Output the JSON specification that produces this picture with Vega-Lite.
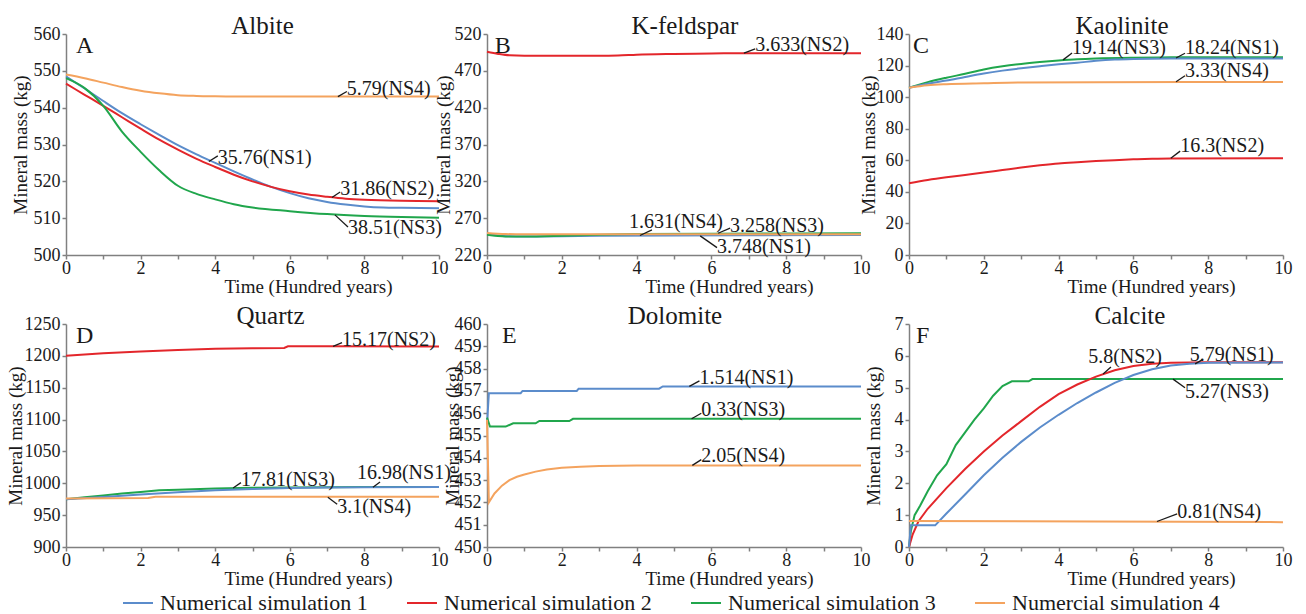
{
  "$schema": "https://vega.github.io/schema/vega-lite/v6.json",
  "padding": {"left": 5, "top": 14, "right": 5, "bottom": 0},
  "bounds": "flush",
  "columns": 3,
  "spacing": {"row": 69, "column": 48},
  "datasets": {
    "A": [
      {"s":"NS1","t":0,"m":548.5},{"s":"NS1","t":0.5,"m":545.2},{"s":"NS1","t":1,"m":541.8},{"s":"NS1","t":1.5,"m":538.5},{"s":"NS1","t":2,"m":535.5},{"s":"NS1","t":2.5,"m":532.6},{"s":"NS1","t":3,"m":529.8},{"s":"NS1","t":3.5,"m":527.3},{"s":"NS1","t":4,"m":525},{"s":"NS1","t":4.5,"m":522.7},{"s":"NS1","t":5,"m":520.5},{"s":"NS1","t":5.5,"m":518.5},{"s":"NS1","t":6,"m":516.8},{"s":"NS1","t":6.5,"m":515.4},{"s":"NS1","t":7,"m":514.4},{"s":"NS1","t":7.5,"m":513.7},{"s":"NS1","t":8,"m":513.2},{"s":"NS1","t":8.5,"m":512.9},{"s":"NS1","t":9,"m":512.8},{"s":"NS1","t":10,"m":512.7},
      {"s":"NS2","t":0,"m":546.5},{"s":"NS2","t":0.5,"m":543.5},{"s":"NS2","t":1,"m":540.5},{"s":"NS2","t":1.5,"m":537.4},{"s":"NS2","t":2,"m":534.3},{"s":"NS2","t":2.5,"m":531.3},{"s":"NS2","t":3,"m":528.6},{"s":"NS2","t":3.5,"m":526.1},{"s":"NS2","t":4,"m":523.9},{"s":"NS2","t":4.5,"m":521.8},{"s":"NS2","t":5,"m":520},{"s":"NS2","t":5.5,"m":518.5},{"s":"NS2","t":6,"m":517.3},{"s":"NS2","t":6.5,"m":516.4},{"s":"NS2","t":7,"m":515.8},{"s":"NS2","t":7.5,"m":515.3},{"s":"NS2","t":8,"m":515},{"s":"NS2","t":9,"m":514.7},{"s":"NS2","t":10,"m":514.6},
      {"s":"NS3","t":0,"m":548},{"s":"NS3","t":0.5,"m":545.3},{"s":"NS3","t":1,"m":540.5},{"s":"NS3","t":1.5,"m":533.5},{"s":"NS3","t":2,"m":528},{"s":"NS3","t":2.5,"m":523},{"s":"NS3","t":3,"m":518.8},{"s":"NS3","t":3.5,"m":516.6},{"s":"NS3","t":4,"m":515.1},{"s":"NS3","t":4.5,"m":513.8},{"s":"NS3","t":5,"m":512.9},{"s":"NS3","t":6,"m":511.9},{"s":"NS3","t":7,"m":511.1},{"s":"NS3","t":8,"m":510.6},{"s":"NS3","t":9,"m":510.3},{"s":"NS3","t":10,"m":510.1},
      {"s":"NS4","t":0,"m":549},{"s":"NS4","t":0.5,"m":548},{"s":"NS4","t":1,"m":546.8},{"s":"NS4","t":1.5,"m":545.6},{"s":"NS4","t":2,"m":544.6},{"s":"NS4","t":2.5,"m":543.9},{"s":"NS4","t":3,"m":543.4},{"s":"NS4","t":3.5,"m":543.2},{"s":"NS4","t":4,"m":543.1},{"s":"NS4","t":5,"m":543},{"s":"NS4","t":10,"m":543}
    ],
    "A_lab": [
      {"label":"5.79(NS4)","lx":7.53,"ly":545.1,"t":7.29,"m":543,"t2":7.53,"m2":544.4},
      {"label":"35.76(NS1)","lx":4.07,"ly":526.4,"t":3.83,"m":525.4,"t2":4.07,"m2":526.9},
      {"label":"31.86(NS2)","lx":7.35,"ly":517.9,"t":7.13,"m":515.6,"t2":7.35,"m2":517.1},
      {"label":"38.51(NS3)","lx":7.56,"ly":507.3,"t":7.21,"m":510.9,"t2":7.56,"m2":507.6}
    ],
    "B": [
      {"s":"NS2","t":0,"m":496},{"s":"NS2","t":0.3,"m":493},{"s":"NS2","t":0.6,"m":491},{"s":"NS2","t":1,"m":490.5},{"s":"NS2","t":2,"m":490.5},{"s":"NS2","t":3,"m":490.5},{"s":"NS2","t":3.5,"m":490.8},{"s":"NS2","t":4,"m":492},{"s":"NS2","t":5,"m":493},{"s":"NS2","t":6,"m":493.5},{"s":"NS2","t":7,"m":494},{"s":"NS2","t":10,"m":494},
      {"s":"NS1","t":0,"m":248.5},{"s":"NS1","t":0.5,"m":245.5},{"s":"NS1","t":1,"m":245.2},{"s":"NS1","t":2,"m":245.5},{"s":"NS1","t":3,"m":246},{"s":"NS1","t":5,"m":246.5},{"s":"NS1","t":10,"m":247},
      {"s":"NS3","t":0,"m":247.5},{"s":"NS3","t":0.5,"m":245.2},{"s":"NS3","t":1,"m":245},{"s":"NS3","t":2,"m":246},{"s":"NS3","t":3,"m":247.5},{"s":"NS3","t":4,"m":248.5},{"s":"NS3","t":6,"m":249},{"s":"NS3","t":10,"m":249.5},
      {"s":"NS4","t":0,"m":250},{"s":"NS4","t":0.5,"m":248.5},{"s":"NS4","t":1,"m":248},{"s":"NS4","t":3,"m":248},{"s":"NS4","t":5,"m":248.2},{"s":"NS4","t":10,"m":248.2}
    ],
    "B_lab": [
      {"label":"3.633(NS2)","lx":7.17,"ly":505,"t":6.87,"m":494,"t2":7.17,"m2":499.7},
      {"label":"1.631(NS4)","lx":3.8,"ly":264.6,"t":4.09,"m":246.5,"t2":4.41,"m2":254},
      {"label":"3.258(NS3)","lx":6.5,"ly":259.2,"t":6.18,"m":249.5,"t2":6.5,"m2":256.5},
      {"label":"3.748(NS1)","lx":6.15,"ly":230.8,"t":5.7,"m":246,"t2":6.15,"m2":230}
    ],
    "C": [
      {"s":"NS3","t":0,"m":106},{"s":"NS3","t":0.5,"m":109.5},{"s":"NS3","t":1,"m":112.3},{"s":"NS3","t":1.5,"m":114.8},{"s":"NS3","t":2,"m":117.5},{"s":"NS3","t":2.5,"m":119.5},{"s":"NS3","t":3,"m":121},{"s":"NS3","t":3.5,"m":122.2},{"s":"NS3","t":4,"m":123.2},{"s":"NS3","t":4.5,"m":124},{"s":"NS3","t":5,"m":124.5},{"s":"NS3","t":6,"m":125},{"s":"NS3","t":7,"m":125.2},{"s":"NS3","t":10,"m":125.3},
      {"s":"NS1","t":0,"m":106},{"s":"NS1","t":0.5,"m":108.5},{"s":"NS1","t":1,"m":110.5},{"s":"NS1","t":1.5,"m":112.8},{"s":"NS1","t":2,"m":115},{"s":"NS1","t":2.5,"m":116.8},{"s":"NS1","t":3,"m":118.3},{"s":"NS1","t":3.5,"m":119.6},{"s":"NS1","t":4,"m":120.8},{"s":"NS1","t":4.5,"m":121.8},{"s":"NS1","t":5,"m":123},{"s":"NS1","t":5.5,"m":123.8},{"s":"NS1","t":6,"m":124.2},{"s":"NS1","t":7,"m":124.5},{"s":"NS1","t":10,"m":124.5},
      {"s":"NS4","t":0,"m":106},{"s":"NS4","t":0.5,"m":107.5},{"s":"NS4","t":1,"m":108.2},{"s":"NS4","t":2,"m":108.8},{"s":"NS4","t":3,"m":109.3},{"s":"NS4","t":5,"m":109.5},{"s":"NS4","t":10,"m":109.6},
      {"s":"NS2","t":0,"m":45.5},{"s":"NS2","t":0.5,"m":47.5},{"s":"NS2","t":1,"m":49.2},{"s":"NS2","t":1.5,"m":50.7},{"s":"NS2","t":2,"m":52.2},{"s":"NS2","t":2.5,"m":53.8},{"s":"NS2","t":3,"m":55.4},{"s":"NS2","t":3.5,"m":56.8},{"s":"NS2","t":4,"m":58},{"s":"NS2","t":4.5,"m":58.8},{"s":"NS2","t":5,"m":59.5},{"s":"NS2","t":5.5,"m":60.1},{"s":"NS2","t":6,"m":60.6},{"s":"NS2","t":6.5,"m":61},{"s":"NS2","t":7,"m":61.2},{"s":"NS2","t":10,"m":61.3}
    ],
    "C_lab": [
      {"label":"19.14(NS3)","lx":4.36,"ly":130.9,"t":4.12,"m":123.6,"t2":4.36,"m2":128},
      {"label":"18.24(NS1)","lx":7.38,"ly":130.9,"t":7.14,"m":124.8,"t2":7.38,"m2":127.8},
      {"label":"3.33(NS4)","lx":7.38,"ly":116.7,"t":7.14,"m":109.7,"t2":7.38,"m2":113.5},
      {"label":"16.3(NS2)","lx":7.25,"ly":68.9,"t":7.0,"m":61.3,"t2":7.25,"m2":65.8}
    ],
    "D": [
      {"s":"NS2","t":0,"m":1200},{"s":"NS2","t":1,"m":1204},{"s":"NS2","t":2,"m":1207},{"s":"NS2","t":3,"m":1209},{"s":"NS2","t":4,"m":1211},{"s":"NS2","t":5,"m":1212},{"s":"NS2","t":5.85,"m":1212.5},{"s":"NS2","t":5.95,"m":1215},{"s":"NS2","t":7,"m":1215},{"s":"NS2","t":10,"m":1214.8},
      {"s":"NS3","t":0,"m":975},{"s":"NS3","t":0.5,"m":978},{"s":"NS3","t":1,"m":981},{"s":"NS3","t":1.5,"m":984},{"s":"NS3","t":2,"m":986.5},{"s":"NS3","t":2.5,"m":989},{"s":"NS3","t":3,"m":990},{"s":"NS3","t":4,"m":992},{"s":"NS3","t":5,"m":993},{"s":"NS3","t":6,"m":993.5},{"s":"NS3","t":8,"m":994},{"s":"NS3","t":10,"m":994.2},
      {"s":"NS1","t":0,"m":975},{"s":"NS1","t":1,"m":978.5},{"s":"NS1","t":2,"m":982.5},{"s":"NS1","t":3,"m":986},{"s":"NS1","t":4,"m":989},{"s":"NS1","t":5,"m":991},{"s":"NS1","t":6,"m":992.5},{"s":"NS1","t":7,"m":993.3},{"s":"NS1","t":8,"m":993.8},{"s":"NS1","t":10,"m":994},
      {"s":"NS4","t":0,"m":976},{"s":"NS4","t":2.2,"m":977},{"s":"NS4","t":2.4,"m":979},{"s":"NS4","t":5,"m":979},{"s":"NS4","t":10,"m":979}
    ],
    "D_lab": [
      {"label":"15.17(NS2)","lx":7.4,"ly":1224.5,"t":7.16,"m":1215,"t2":7.4,"m2":1220.7},
      {"label":"17.81(NS3)","lx":4.69,"ly":1005.2,"t":4.48,"m":992.5,"t2":4.69,"m2":1001},
      {"label":"16.98(NS1)","lx":7.8,"ly":1015.7,"t":8.23,"m":993.8,"t2":8.42,"m2":1002},
      {"label":"3.1(NS4)","lx":7.27,"ly":962.8,"t":7.02,"m":978,"t2":7.27,"m2":967}
    ],
    "E": [
      {"s":"NS1","t":0,"m":455.5},{"s":"NS1","t":0.05,"m":456.9},{"s":"NS1","t":0.9,"m":456.9},{"s":"NS1","t":0.95,"m":457},{"s":"NS1","t":2.4,"m":457},{"s":"NS1","t":2.45,"m":457.1},{"s":"NS1","t":4.6,"m":457.1},{"s":"NS1","t":4.7,"m":457.2},{"s":"NS1","t":10,"m":457.2},
      {"s":"NS3","t":0,"m":455.8},{"s":"NS3","t":0.08,"m":455.4},{"s":"NS3","t":0.5,"m":455.4},{"s":"NS3","t":0.7,"m":455.55},{"s":"NS3","t":1.3,"m":455.55},{"s":"NS3","t":1.4,"m":455.65},{"s":"NS3","t":2.2,"m":455.65},{"s":"NS3","t":2.3,"m":455.75},{"s":"NS3","t":10,"m":455.75},
      {"s":"NS4","t":0,"m":455.7},{"s":"NS4","t":0.05,"m":452},{"s":"NS4","t":0.2,"m":452.4},{"s":"NS4","t":0.4,"m":452.75},{"s":"NS4","t":0.6,"m":453},{"s":"NS4","t":0.8,"m":453.15},{"s":"NS4","t":1,"m":453.25},{"s":"NS4","t":1.3,"m":453.38},{"s":"NS4","t":1.6,"m":453.48},{"s":"NS4","t":2,"m":453.55},{"s":"NS4","t":2.5,"m":453.6},{"s":"NS4","t":3,"m":453.63},{"s":"NS4","t":4,"m":453.65},{"s":"NS4","t":10,"m":453.66}
    ],
    "E_lab": [
      {"label":"1.514(NS1)","lx":5.68,"ly":457.6,"t":5.41,"m":457.2,"t2":5.68,"m2":457.45},
      {"label":"0.33(NS3)","lx":5.73,"ly":456.15,"t":5.47,"m":455.75,"t2":5.73,"m2":456},
      {"label":"2.05(NS4)","lx":5.73,"ly":454.06,"t":5.49,"m":453.66,"t2":5.73,"m2":453.92}
    ],
    "F": [
      {"s":"NS3","t":0,"m":0},{"s":"NS3","t":0.05,"m":0.5},{"s":"NS3","t":0.15,"m":1.0},{"s":"NS3","t":0.3,"m":1.3},{"s":"NS3","t":0.5,"m":1.75},{"s":"NS3","t":0.75,"m":2.25},{"s":"NS3","t":1,"m":2.6},{"s":"NS3","t":1.25,"m":3.2},{"s":"NS3","t":1.5,"m":3.6},{"s":"NS3","t":1.75,"m":4.0},{"s":"NS3","t":2,"m":4.35},{"s":"NS3","t":2.25,"m":4.75},{"s":"NS3","t":2.5,"m":5.05},{"s":"NS3","t":2.75,"m":5.2},{"s":"NS3","t":3.2,"m":5.2},{"s":"NS3","t":3.3,"m":5.27},{"s":"NS3","t":10,"m":5.27},
      {"s":"NS2","t":0,"m":0},{"s":"NS2","t":0.1,"m":0.4},{"s":"NS2","t":0.25,"m":0.8},{"s":"NS2","t":0.5,"m":1.2},{"s":"NS2","t":1,"m":1.85},{"s":"NS2","t":1.5,"m":2.45},{"s":"NS2","t":2,"m":3.0},{"s":"NS2","t":2.5,"m":3.5},{"s":"NS2","t":3,"m":3.95},{"s":"NS2","t":3.5,"m":4.4},{"s":"NS2","t":4,"m":4.8},{"s":"NS2","t":4.5,"m":5.1},{"s":"NS2","t":5,"m":5.35},{"s":"NS2","t":5.5,"m":5.55},{"s":"NS2","t":6,"m":5.68},{"s":"NS2","t":6.5,"m":5.75},{"s":"NS2","t":7,"m":5.78},{"s":"NS2","t":8,"m":5.8},{"s":"NS2","t":10,"m":5.8},
      {"s":"NS1","t":0,"m":0},{"s":"NS1","t":0.05,"m":0.68},{"s":"NS1","t":0.7,"m":0.68},{"s":"NS1","t":1,"m":1.05},{"s":"NS1","t":1.5,"m":1.65},{"s":"NS1","t":2,"m":2.25},{"s":"NS1","t":2.5,"m":2.8},{"s":"NS1","t":3,"m":3.3},{"s":"NS1","t":3.5,"m":3.75},{"s":"NS1","t":4,"m":4.15},{"s":"NS1","t":4.5,"m":4.52},{"s":"NS1","t":5,"m":4.85},{"s":"NS1","t":5.5,"m":5.15},{"s":"NS1","t":6,"m":5.4},{"s":"NS1","t":6.5,"m":5.58},{"s":"NS1","t":7,"m":5.7},{"s":"NS1","t":7.5,"m":5.75},{"s":"NS1","t":8,"m":5.78},{"s":"NS1","t":10,"m":5.79},
      {"s":"NS4","t":0,"m":0.82},{"s":"NS4","t":5,"m":0.8},{"s":"NS4","t":10,"m":0.78}
    ],
    "F_lab": [
      {"label":"5.8(NS2)","lx":4.79,"ly":5.96,"t":5.19,"m":5.43,"t2":5.4,"m2":5.65},
      {"label":"5.79(NS1)","lx":7.51,"ly":6.03,"t":7.65,"m":5.75,"t2":7.86,"m2":5.89},
      {"label":"5.27(NS3)","lx":7.38,"ly":4.88,"t":7.06,"m":5.27,"t2":7.38,"m2":5.0},
      {"label":"0.81(NS4)","lx":7.17,"ly":1.1,"t":6.63,"m":0.8,"t2":7.17,"m2":1.04}
    ]
  },
  "concat": [
    {
      "width": 373, "height": 221,
      "title": {"text": "Albite", "dx": 10},
      "layer": [
        {"data": {"name": "A"}, "mark": {"type": "line", "interpolate": "monotone"},
         "encoding": {
           "x": {"field": "t", "type": "quantitative", "scale": {"domain": [0, 10], "nice": false}, "axis": {"values": [0,1,2,3,4,5,6,7,8,9,10], "tickCount": 30, "format": "d", "labelExpr": "datum.value % 2 == 0 ? datum.label : ''", "labelOverlap": false, "title": "Time (Hundred years)"}},
           "y": {"field": "m", "type": "quantitative", "scale": {"domain": [500, 560], "nice": false, "zero": false}, "axis": {"values": [500,510,520,530,540,550,560], "tickCount": 30, "format": "d", "labelOverlap": false, "title": "Mineral mass (kg)", "titleX": -46}},
           "color": {"field": "s", "type": "nominal", "scale": {"domain": ["NS1","NS2","NS3","NS4"], "range": ["#5b8ccb","#e3262b","#20a64c","#f4a35e"]}, "legend": {"title": null, "orient": "none", "legendX": 56, "legendY": 553, "direction": "horizontal", "labelExpr": "{'NS1':'Numerical simulation 1','NS2':'Numerical simulation 2','NS3':'Numerical simulation 3','NS4':'Numercial simulation 4'}[datum.label]"}}
         }},
        {"data": {"name": "A_lab"}, "mark": {"type": "rule", "color": "#1a1a1a", "strokeWidth": 1.3},
         "encoding": {"x": {"field": "t", "type": "quantitative"}, "y": {"field": "m", "type": "quantitative"}, "x2": {"field": "t2"}, "y2": {"field": "m2"}}},
        {"data": {"name": "A_lab"}, "mark": {"type": "text", "align": "left", "baseline": "middle", "fontSize": 20, "color": "#1a1a1a"},
         "encoding": {"x": {"field": "lx", "type": "quantitative"}, "y": {"field": "ly", "type": "quantitative"}, "text": {"field": "label"}}},
        {"data": {"values": [{"panel": "A"}]}, "mark": {"type": "text", "align": "left", "baseline": "top", "fontSize": 24, "color": "#1a1a1a", "dy": 0},
         "encoding": {"x": {"datum": 0.27}, "y": {"datum": 560}, "text": {"field": "panel"}}}
      ]
    },
    {
      "width": 374, "height": 221,
      "title": {"text": "K-feldspar", "dx": 11},
      "layer": [
        {"data": {"name": "B"}, "mark": {"type": "line", "interpolate": "monotone"},
         "encoding": {
           "x": {"field": "t", "type": "quantitative", "scale": {"domain": [0, 10], "nice": false}, "axis": {"values": [0,1,2,3,4,5,6,7,8,9,10], "tickCount": 30, "format": "d", "labelExpr": "datum.value % 2 == 0 ? datum.label : ''", "labelOverlap": false, "title": "Time (Hundred years)"}},
           "y": {"field": "m", "type": "quantitative", "scale": {"domain": [220, 520], "nice": false, "zero": false}, "axis": {"values": [220,270,320,370,420,470,520], "tickCount": 30, "format": "d", "labelOverlap": false, "title": "Mineral mass (kg)", "titleX": -44}},
           "color": {"field": "s", "type": "nominal", "scale": {"domain": ["NS1","NS2","NS3","NS4"], "range": ["#5b8ccb","#e3262b","#20a64c","#f4a35e"]}, "legend": {"title": null}}
         }},
        {"data": {"name": "B_lab"}, "mark": {"type": "rule", "color": "#1a1a1a", "strokeWidth": 1.3},
         "encoding": {"x": {"field": "t", "type": "quantitative"}, "y": {"field": "m", "type": "quantitative"}, "x2": {"field": "t2"}, "y2": {"field": "m2"}}},
        {"data": {"name": "B_lab"}, "mark": {"type": "text", "align": "left", "baseline": "middle", "fontSize": 20, "color": "#1a1a1a"},
         "encoding": {"x": {"field": "lx", "type": "quantitative"}, "y": {"field": "ly", "type": "quantitative"}, "text": {"field": "label"}}},
        {"data": {"values": [{"panel": "B"}]}, "mark": {"type": "text", "align": "left", "baseline": "top", "fontSize": 24, "color": "#1a1a1a", "dy": 0},
         "encoding": {"x": {"datum": 0.21}, "y": {"datum": 520}, "text": {"field": "panel"}}}
      ]
    },
    {
      "width": 374, "height": 221,
      "title": {"text": "Kaolinite", "dx": 26},
      "layer": [
        {"data": {"name": "C"}, "mark": {"type": "line", "interpolate": "monotone"},
         "encoding": {
           "x": {"field": "t", "type": "quantitative", "scale": {"domain": [0, 10], "nice": false}, "axis": {"values": [0,1,2,3,4,5,6,7,8,9,10], "tickCount": 30, "format": "d", "labelExpr": "datum.value % 2 == 0 ? datum.label : ''", "labelOverlap": false, "title": "Time (Hundred years)"}},
           "y": {"field": "m", "type": "quantitative", "scale": {"domain": [0, 140], "nice": false}, "axis": {"values": [0,20,40,60,80,100,120,140], "tickCount": 30, "format": "d", "labelOverlap": false, "title": "Mineral mass (kg)", "titleX": -41}},
           "color": {"field": "s", "type": "nominal", "scale": {"domain": ["NS1","NS2","NS3","NS4"], "range": ["#5b8ccb","#e3262b","#20a64c","#f4a35e"]}, "legend": {"title": null}}
         }},
        {"data": {"name": "C_lab"}, "mark": {"type": "rule", "color": "#1a1a1a", "strokeWidth": 1.3},
         "encoding": {"x": {"field": "t", "type": "quantitative"}, "y": {"field": "m", "type": "quantitative"}, "x2": {"field": "t2"}, "y2": {"field": "m2"}}},
        {"data": {"name": "C_lab"}, "mark": {"type": "text", "align": "left", "baseline": "middle", "fontSize": 20, "color": "#1a1a1a"},
         "encoding": {"x": {"field": "lx", "type": "quantitative"}, "y": {"field": "ly", "type": "quantitative"}, "text": {"field": "label"}}},
        {"data": {"values": [{"panel": "C"}]}, "mark": {"type": "text", "align": "left", "baseline": "top", "fontSize": 24, "color": "#1a1a1a", "dy": 0},
         "encoding": {"x": {"datum": 0.11}, "y": {"datum": 140}, "text": {"field": "panel"}}}
      ]
    },
    {
      "width": 373, "height": 223,
      "title": {"text": "Quartz", "dx": 18},
      "layer": [
        {"data": {"name": "D"}, "mark": {"type": "line"},
         "encoding": {
           "x": {"field": "t", "type": "quantitative", "scale": {"domain": [0, 10], "nice": false}, "axis": {"values": [0,1,2,3,4,5,6,7,8,9,10], "tickCount": 30, "format": "d", "labelExpr": "datum.value % 2 == 0 ? datum.label : ''", "labelOverlap": false, "title": "Time (Hundred years)"}},
           "y": {"field": "m", "type": "quantitative", "scale": {"domain": [900, 1250], "nice": false, "zero": false}, "axis": {"values": [900,950,1000,1050,1100,1150,1200,1250], "tickCount": 30, "format": "d", "labelOverlap": false, "title": "Mineral mass (kg)", "titleX": -51}},
           "color": {"field": "s", "type": "nominal", "scale": {"domain": ["NS1","NS2","NS3","NS4"], "range": ["#5b8ccb","#e3262b","#20a64c","#f4a35e"]}, "legend": {"title": null}}
         }},
        {"data": {"name": "D_lab"}, "mark": {"type": "rule", "color": "#1a1a1a", "strokeWidth": 1.3},
         "encoding": {"x": {"field": "t", "type": "quantitative"}, "y": {"field": "m", "type": "quantitative"}, "x2": {"field": "t2"}, "y2": {"field": "m2"}}},
        {"data": {"name": "D_lab"}, "mark": {"type": "text", "align": "left", "baseline": "middle", "fontSize": 20, "color": "#1a1a1a"},
         "encoding": {"x": {"field": "lx", "type": "quantitative"}, "y": {"field": "ly", "type": "quantitative"}, "text": {"field": "label"}}},
        {"data": {"values": [{"panel": "D"}]}, "mark": {"type": "text", "align": "left", "baseline": "top", "fontSize": 24, "color": "#1a1a1a", "dy": 0},
         "encoding": {"x": {"datum": 0.27}, "y": {"datum": 1250}, "text": {"field": "panel"}}}
      ]
    },
    {
      "width": 374, "height": 223,
      "title": {"text": "Dolomite", "dx": 1},
      "layer": [
        {"data": {"name": "E"}, "mark": {"type": "line"},
         "encoding": {
           "x": {"field": "t", "type": "quantitative", "scale": {"domain": [0, 10], "nice": false}, "axis": {"values": [0,1,2,3,4,5,6,7,8,9,10], "tickCount": 30, "format": "d", "labelExpr": "datum.value % 2 == 0 ? datum.label : ''", "labelOverlap": false, "title": "Time (Hundred years)"}},
           "y": {"field": "m", "type": "quantitative", "scale": {"domain": [450, 460], "nice": false, "zero": false}, "axis": {"values": [450,451,452,453,454,455,456,457,458,459,460], "tickCount": 30, "format": "d", "labelOverlap": false, "title": "Mineral mass (kg)", "titleX": -35}},
           "color": {"field": "s", "type": "nominal", "scale": {"domain": ["NS1","NS2","NS3","NS4"], "range": ["#5b8ccb","#e3262b","#20a64c","#f4a35e"]}, "legend": {"title": null}}
         }},
        {"data": {"name": "E_lab"}, "mark": {"type": "rule", "color": "#1a1a1a", "strokeWidth": 1.3},
         "encoding": {"x": {"field": "t", "type": "quantitative"}, "y": {"field": "m", "type": "quantitative"}, "x2": {"field": "t2"}, "y2": {"field": "m2"}}},
        {"data": {"name": "E_lab"}, "mark": {"type": "text", "align": "left", "baseline": "middle", "fontSize": 20, "color": "#1a1a1a"},
         "encoding": {"x": {"field": "lx", "type": "quantitative"}, "y": {"field": "ly", "type": "quantitative"}, "text": {"field": "label"}}},
        {"data": {"values": [{"panel": "E"}]}, "mark": {"type": "text", "align": "left", "baseline": "top", "fontSize": 24, "color": "#1a1a1a", "dy": 0},
         "encoding": {"x": {"datum": 0.4}, "y": {"datum": 460}, "text": {"field": "panel"}}}
      ]
    },
    {
      "width": 374, "height": 223,
      "title": {"text": "Calcite", "dx": 34},
      "layer": [
        {"data": {"name": "F"}, "mark": {"type": "line"},
         "encoding": {
           "x": {"field": "t", "type": "quantitative", "scale": {"domain": [0, 10], "nice": false}, "axis": {"values": [0,1,2,3,4,5,6,7,8,9,10], "tickCount": 30, "format": "d", "labelExpr": "datum.value % 2 == 0 ? datum.label : ''", "labelOverlap": false, "title": "Time (Hundred years)"}},
           "y": {"field": "m", "type": "quantitative", "scale": {"domain": [0, 7], "nice": false}, "axis": {"values": [0,1,2,3,4,5,6,7], "tickCount": 30, "format": "d", "labelOverlap": false, "title": "Mineral mass (kg)", "titleX": -36}},
           "color": {"field": "s", "type": "nominal", "scale": {"domain": ["NS1","NS2","NS3","NS4"], "range": ["#5b8ccb","#e3262b","#20a64c","#f4a35e"]}, "legend": {"title": null}}
         }},
        {"data": {"name": "F_lab"}, "mark": {"type": "rule", "color": "#1a1a1a", "strokeWidth": 1.3},
         "encoding": {"x": {"field": "t", "type": "quantitative"}, "y": {"field": "m", "type": "quantitative"}, "x2": {"field": "t2"}, "y2": {"field": "m2"}}},
        {"data": {"name": "F_lab"}, "mark": {"type": "text", "align": "left", "baseline": "middle", "fontSize": 20, "color": "#1a1a1a"},
         "encoding": {"x": {"field": "lx", "type": "quantitative"}, "y": {"field": "ly", "type": "quantitative"}, "text": {"field": "label"}}},
        {"data": {"values": [{"panel": "F"}]}, "mark": {"type": "text", "align": "left", "baseline": "top", "fontSize": 24, "color": "#1a1a1a", "dy": 0},
         "encoding": {"x": {"datum": 0.19}, "y": {"datum": 7}, "text": {"field": "panel"}}}
      ]
    }
  ],
  "config": {
    "font": "Liberation Serif",
    "view": {"stroke": null},
    "line": {"strokeWidth": 2},
    "text": {"font": "Liberation Serif"},
    "axis": {"labelFont": "Liberation Serif", "titleFont": "Liberation Serif", "labelFontSize": 18, "titleFontSize": 19, "titleFontWeight": "normal", "labelColor": "#1a1a1a", "titleColor": "#1a1a1a", "domainColor": "#808080", "tickColor": "#808080", "domainWidth": 1.5, "tickWidth": 1.5, "tickSize": 4, "grid": false, "labelFlush": false, "labelOverlap": false, "labelPadding": 1},
    "axisX": {"titleX": 242, "titleY": 37, "titleBaseline": "alphabetic", "labelPadding": 0},
    "axisY": {"titleBaseline": "middle", "labelPadding": 2},
    "title": {"font": "Liberation Serif", "fontSize": 25, "fontWeight": "normal", "color": "#1a1a1a", "anchor": "middle", "baseline": "alphabetic", "offset": -14},
    "legend": {"direction": "horizontal", "padding": 0, "labelFont": "Liberation Serif", "labelFontSize": 22, "labelColor": "#1a1a1a", "symbolType": "stroke", "symbolSize": 900, "symbolStrokeWidth": 3, "columnPadding": 35, "labelOffset": 6, "labelLimit": 400}
  }
}
